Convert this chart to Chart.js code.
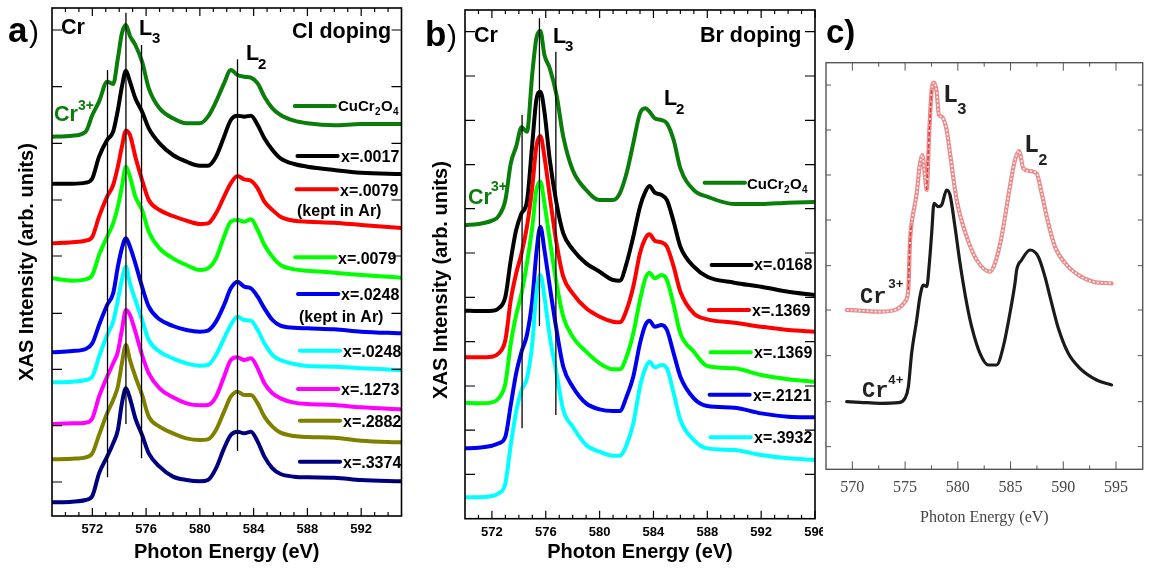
<!DOCTYPE html>
<html>
<head>
<meta charset="utf-8">
<title>Cr L-edge XAS</title>
<script src="https://cdn.jsdelivr.net/npm/chart.js@4"></script>
<style>
  html, body { margin: 0; padding: 0; background: #fff; }
  canvas { position: absolute; top: 0; }
  #chartA { left: 0; }
  #chartB { left: 410px; }
  #chartC { left: 823px; background: #fff; }
</style>
</head>
<body>
<canvas id="chartA" width="445" height="571"></canvas>
<canvas id="chartB" width="430" height="571"></canvas>
<canvas id="chartC" width="328" height="571"></canvas>
<script>
// panel a, Cl doping
const energyA = [569,570.5,571.5,572,572.5,573.1,573.55,573.9,574.2,574.5,574.8,575.2,575.7,576.2,577,578,579,580,580.6,581.2,581.8,582.3,582.8,583.3,583.8,584.3,584.8,585.4,586,587,588,590,592,595];
const cuCrA = [1138,1141,1153,1203,1243,1303,1296,1373,1448,1473,1440,1413,1363,1283,1223,1193,1178,1178,1198,1243,1298,1338,1323,1318,1315,1298,1258,1223,1203,1186,1178,1172,1176,1176];
const x0017A = [997,997,1000,1013,1078,1128,1153,1218,1288,1336,1303,1253,1213,1163,1118,1083,1063,1051,1051,1078,1138,1188,1201,1198,1201,1173,1133,1098,1073,1056,1048,1038,1030,1026];
const x0079ArA = [818,821,826,838,898,958,993,1048,1108,1156,1143,1078,1008,948,918,900,886,876,878,908,958,998,1020,1010,1006,983,943,918,898,886,883,880,873,864];
const x0079A = [713,706,710,723,783,838,878,928,988,1048,1018,958,918,853,803,773,753,738,743,773,838,883,888,883,890,858,813,778,753,740,736,730,723,715];
const x0248ArA = [491,495,501,518,573,633,668,748,803,833,808,758,688,628,590,570,558,553,556,583,633,683,703,688,683,658,623,588,571,565,563,560,553,548];
const x0248A = [401,403,408,418,478,543,583,648,708,748,698,648,588,528,493,473,458,451,453,483,533,573,598,588,586,558,518,483,468,456,450,448,443,438];
const x1273A = [276,278,280,293,358,418,458,493,558,618,603,553,483,428,383,356,338,332,333,358,418,468,476,468,473,443,398,368,353,340,336,333,326,320];
const x2882A = [170,172,176,188,243,308,348,388,458,513,468,418,363,298,268,248,233,228,230,258,313,358,373,363,363,338,298,268,250,240,237,235,226,221];
const x3374A = [41,43,48,60,128,178,218,258,338,383,353,293,243,188,148,118,108,104,108,143,203,243,253,248,253,223,178,143,126,118,116,115,108,104];
const colorsA = ['#0a7d0a','#000000','#ff0000','#00ff00','#0000f0','#00ffff','#ff00ff','#808000','#000080'];
const curvesA = [cuCrA,x0017A,x0079ArA,x0079A,x0248ArA,x0248A,x1273A,x2882A,x3374A];
const namesA = ['CuCr2O4','x=.0017','x=.0079 (kept in Ar)','x=.0079','x=.0248 (kept in Ar)','x=.0248','x=.1273','x=.2882','x=.3374'];
const swatchStartA = [587.06,587.26,587.2,587.1,587.3,587.44,587.3,587.44,587.44];
const swatchEndA = [590.05,590.25,590.2,590.1,590.3,590.43,590.3,590.43,590.43];
const swatchLevelA = [1230,1080,980,776,666,496,381,286,163];
const guideXA = [573.13,574.5,575.66,582.8];
const guideTopA = [1338,1510,1413,1370];
const guideBottomA = [116,276,173,195];
const majorXA = [572,576,580,584,588,592];
const minorXA = [570,571,573,574,575,577,578,579,581,582,583,585,586,587,589,590,591,593,594];
const ticksYA = [102,271,440,608,780,948,1118,1288,1458];

// panel b, Br doping
const energyB = [570,571,572,572.5,573,573.4,573.8,574.2,574.6,575,575.3,575.6,575.9,576.3,576.8,577.3,578,579,580,581,581.5,582,582.5,583,583.4,583.7,584.1,584.6,585,585.5,586,587,588,590,592,594,596];
const cuCrB = [881,884,894,908,956,1066,1116,1174,1161,1336,1441,1463,1391,1351,1271,1146,1046,986,956,956,976,1036,1126,1216,1231,1221,1201,1196,1186,1136,1051,986,966,944,944,948,950];
const x0168B = [624,623,624,631,666,776,866,916,951,1126,1256,1281,1221,1076,946,856,808,766,741,716,714,766,846,936,981,998,978,971,956,891,816,756,726,708,696,681,671];
const x1369RedB = [484,484,486,496,536,656,736,796,876,996,1116,1148,1086,966,826,726,676,631,606,591,589,626,696,796,841,853,834,829,816,756,681,616,598,588,576,566,561];
const x1369LimeB = [348,346,349,361,406,526,611,676,766,876,986,1011,946,836,706,606,546,501,466,448,448,486,556,656,721,738,721,731,716,641,556,501,458,451,431,418,411];
const x2121B = [211,213,219,226,246,341,436,501,551,656,796,876,806,696,566,456,396,346,328,323,323,366,426,526,581,594,576,581,566,496,426,361,338,333,316,306,304];
const x3932B = [64,64,68,76,106,221,321,386,421,526,676,731,666,546,436,326,276,221,201,189,189,221,286,396,451,471,454,461,451,376,296,236,211,206,191,181,176];
const colorsB = ['#0a7d0a','#000000','#ff0000','#00ff00','#0000f0','#00ffff'];
const curvesB = [cuCrB,x0168B,x1369RedB,x1369LimeB,x2121B,x3932B];
const namesB = ['CuCr2O4','x=.0168','x=.1369','x=.1369','x=.2121','x=.3932'];
const swatchStartB = [587.8,588.32,588.12,588.24,588.17,588.24];
const swatchEndB = [590.8,591.3,591.1,591.23,591.15,591.23];
const swatchLevelB = [1008,761,626,499,372,244];
const guideXB = [574.24,575.53,576.75];
const guideTopB = [1211,1501,1401];
const guideBottomB = [271,578,311];
const majorXB = [572,576,580,584,588,592,596];
const minorXB = [571,573,574,575,577,578,579,581,582,583,585,586,587,589,590,591,593,594,595];
const ticksYB = [133,266,398,531,664,797,930,1062,1195,1328,1461];

// panel c, reference spectra
const energyCr3 = [569.46,570.73,572.62,574.2,574.99,575.3,575.47,575.62,576.1,576.41,576.63,576.89,577.05,577.27,577.52,577.74,577.99,578.21,578.47,578.94,579.26,579.89,580.84,581.79,583.05,583.52,584.15,584.94,585.42,585.8,586.21,586.84,587.47,587.95,588.58,589.21,590.32,591.58,592.84,594.58];
const valuesCr3 = [478,476,473,480,503,538,688,738,828,918,943,878,838,998,1138,1160,1133,1063,1058,1018,948,808,698,628,593,618,698,848,928,955,903,895,888,828,738,668,613,580,563,558];
const steepEnergyCr3 = [575.3,575.47,575.62];
const steepValuesCr3 = [538,688,738];
const riseEnergyCr3 = [577.05,577.27,577.52];
const riseValuesCr3 = [838,998,1138];
const energyCr4 = [569.46,570.73,572.62,574.36,574.99,575.31,575.62,576.1,576.41,576.73,577.05,577.3,577.52,577.74,578.15,578.47,578.94,579.26,579.73,580.21,580.84,581.31,582.1,582.89,583.68,584.31,584.94,585.42,585.58,586.05,586.84,587.63,588.26,588.74,589.53,590.47,591.58,593.16,594.58];
const valuesCr4 = [203,201,198,200,213,248,348,448,518,553,548,618,708,798,788,793,838,823,728,618,498,428,348,313,313,368,468,558,598,628,658,638,578,518,423,348,303,268,253];
const majorXC = [570,575,580,585,590,595];
const minorXC = [572.5,577.5,582.5,587.5,592.5];
const ticksYC = [68,203,341,478,611,748,883,1018,1153];

const SANS = '"Liberation Sans"';
const MONO = '"Liberation Mono"';
const GREEN = '#0a7d0a';
const F16 = 'bold 16px ' + SANS;
const HEAD = 'bold 21.5px ' + SANS;
const SUB = 'bold 15px ' + SANS;

// text, x, y, font, color (canvas pixels)
const textA = [
  ['a', 8, 42, 'bold 35px ' + SANS, '#000'],
  [')', 29, 42, '30px ' + SANS, '#000'],
  ['Cr', 61, 34, HEAD, '#000'],
  ['L', 139, 35, HEAD, '#000'],
  ['3', 152, 43, SUB, '#000'],
  ['L', 246, 60, HEAD, '#000'],
  ['2', 258, 69, SUB, '#000'],
  ['Cl doping', 292, 38, HEAD, '#000'],
  ['Cr', 54, 121, HEAD, GREEN],
  ['3+', 78, 110, 'bold 14px ' + SANS, GREEN],
  ['CuCr', 338, 111, 'bold 15px ' + SANS, '#000'],
  ['2', 375, 115, 'bold 10px ' + SANS, '#000'],
  ['O', 381, 111, 'bold 15px ' + SANS, '#000'],
  ['4', 393, 115, 'bold 10px ' + SANS, '#000'],
  ['x=.0017', 341, 162, F16, '#000'],
  ['x=.0079', 340, 196, F16, '#000'],
  ['(kept in Ar)', 297, 216, F16, '#000'],
  ['x=.0079', 338, 264, F16, '#000'],
  ['x=.0248', 341, 300, F16, '#000'],
  ['(kept in Ar)', 299, 322, F16, '#000'],
  ['x=.0248', 343, 357, F16, '#000'],
  ['x=.1273', 341, 395, F16, '#000'],
  ['x=.2882', 343, 427, F16, '#000'],
  ['x=.3374', 343, 468, F16, '#000']
];
const textB = [
  ['b', 15, 46, 'bold 35px ' + SANS, '#000'],
  [')', 37, 46, '30px ' + SANS, '#000'],
  ['Cr', 64, 42, HEAD, '#000'],
  ['L', 143, 43, HEAD, '#000'],
  ['3', 155, 51, SUB, '#000'],
  ['L', 254, 105, HEAD, '#000'],
  ['2', 266, 114, SUB, '#000'],
  ['Br doping', 290, 42, HEAD, '#000'],
  ['Cr', 58, 204, HEAD, GREEN],
  ['3+', 81, 191, 'bold 14px ' + SANS, GREEN],
  ['CuCr', 337, 189, 'bold 15px ' + SANS, '#000'],
  ['2', 374, 193, 'bold 10px ' + SANS, '#000'],
  ['O', 380, 189, 'bold 15px ' + SANS, '#000'],
  ['4', 392, 193, 'bold 10px ' + SANS, '#000'],
  ['x=.0168', 344, 270, F16, '#000'],
  ['x=.1369', 342, 316, F16, '#000'],
  ['x=.1369', 344, 358, F16, '#000'],
  ['x=.2121', 343, 401, F16, '#000'],
  ['x=.3932', 344, 443, F16, '#000'],
  ['XAS Intensity (arb. units)', 37, 280, 'bold 20px ' + SANS, '#000', -90]
];
const textC = [
  ['c)', 3, 43, 'bold 33px ' + SANS, '#000'],
  ['L', 120, 102, 'bold 25px ' + MONO, '#222'],
  ['3', 134, 114, 'bold 16px ' + MONO, '#222'],
  ['L', 201, 152, 'bold 25px ' + MONO, '#222'],
  ['2', 215, 165, 'bold 16px ' + MONO, '#222'],
  ['Cr', 37, 303, 'bold 22px ' + MONO, '#222'],
  ['3+', 65, 288, 'bold 13px ' + MONO, '#222'],
  ['Cr', 39, 397, 'bold 22px ' + MONO, '#222'],
  ['4+', 65, 384, 'bold 13px ' + MONO, '#222']
];

// frame, inward ticks and free text, placed from the chart's own scales
function decorate(cfg) {
  return {
    id: 'decorate',
    afterDatasetsDraw(chart) {
      const ctx = chart.ctx;
      const { left, right, top, bottom } = chart.chartArea;
      const sx = chart.scales.x, sy = chart.scales.y;
      ctx.save();
      ctx.strokeStyle = cfg.color;
      ctx.lineWidth = cfg.tickWidth;
      ctx.beginPath();
      cfg.major.forEach(v => {
        const p = sx.getPixelForValue(v);
        ctx.moveTo(p, bottom); ctx.lineTo(p, bottom - cfg.majorLen);
        ctx.moveTo(p, top); ctx.lineTo(p, top + cfg.majorLen);
      });
      cfg.minor.forEach(v => {
        const p = sx.getPixelForValue(v);
        ctx.moveTo(p, bottom); ctx.lineTo(p, bottom - cfg.minorLen);
        ctx.moveTo(p, top); ctx.lineTo(p, top + cfg.minorLen);
      });
      cfg.ticksY.forEach(v => {
        const p = sy.getPixelForValue(v);
        ctx.moveTo(left, p); ctx.lineTo(left + cfg.yLen, p);
        ctx.moveTo(right, p); ctx.lineTo(right - cfg.yLen, p);
      });
      ctx.stroke();
      ctx.lineWidth = cfg.frameWidth;
      ctx.strokeRect(left, top, right - left, bottom - top);
      ctx.textBaseline = 'alphabetic';
      cfg.text.forEach(t => {
        ctx.save();
        ctx.font = t[3];
        ctx.fillStyle = t[4];
        if (t[5]) {
          ctx.translate(t[1], t[2]);
          ctx.rotate(t[5] * Math.PI / 180);
          ctx.textAlign = 'center';
          ctx.fillText(t[0], 0, 0);
        } else {
          ctx.fillText(t[0], t[1], t[2]);
        }
        ctx.restore();
      });
      ctx.restore();
    }
  };
}

function curveSet(xs, ys, name, color, order, width, dash) {
  return {
    label: name,
    data: xs.map((x, i) => ({ x: x, y: ys[i] })),
    borderColor: color,
    borderWidth: width,
    borderDash: dash || [],
    cubicInterpolationMode: 'monotone',
    borderCapStyle: dash ? 'butt' : 'round',
    borderJoinStyle: 'round',
    pointRadius: 0,
    order: order
  };
}

function segmentSet(x0, y0, x1, y1, color, width, order, cap) {
  return {
    data: [{ x: x0, y: y0 }, { x: x1, y: y1 }],
    borderColor: color,
    borderWidth: width,
    borderCapStyle: cap,
    pointRadius: 0,
    order: order
  };
}

function panelSets(energy, curves, names, colors, start, end, level, guideX, guideTop, guideBottom) {
  const sets = [];
  guideX.forEach((x, i) => sets.push(segmentSet(x, guideBottom[i], x, guideTop[i], '#000', 1.3, 0, 'butt')));
  curves.forEach((c, i) => {
    sets.push(curveSet(energy, c, names[i], colors[i], curves.length - i, 4));
    sets.push(segmentSet(start[i], level[i], end[i], level[i], colors[i], 4, 1, 'round'));
  });
  return sets;
}

function makeChart(id, sets, box, plugin) {
  return new Chart(document.getElementById(id), {
    type: 'line',
    data: { datasets: sets },
    options: {
      responsive: false,
      animation: false,
      layout: { padding: { left: 0, top: box.top, right: box.right, bottom: 0 } },
      plugins: { legend: { display: false }, tooltip: { enabled: false } },
      scales: {
        x: {
          type: 'linear',
          min: box.xMin,
          max: box.xMax,
          grid: { display: false, drawTicks: false },
          border: { display: false },
          afterFit: s => { s.height = box.xHeight; },
          afterBuildTicks: s => { s.ticks = box.major.map(v => ({ value: v })); },
          ticks: { font: box.tickFont, color: box.tickColor, padding: box.tickPad, maxRotation: 0, autoSkip: false },
          title: { display: true, text: 'Photon Energy (eV)', font: box.titleFont, color: box.tickColor, padding: { top: 0, bottom: box.titlePad } }
        },
        y: {
          min: 0,
          max: box.yMax,
          grid: { display: false, drawTicks: false },
          border: { display: false },
          afterFit: s => { s.width = box.yWidth; },
          ticks: { display: false },
          title: box.yTitle
        }
      }
    },
    plugins: [plugin]
  });
}

const boldTicks = { family: 'Liberation Sans', size: 13, weight: 'bold' };
const boldTitle = { family: 'Liberation Sans', size: 20, weight: 'bold' };

makeChart('chartA',
  panelSets(energyA, curvesA, namesA, colorsA, swatchStartA, swatchEndA, swatchLevelA, guideXA, guideTopA, guideBottomA),
  { xMin: 569, xMax: 595, yMax: 1524, top: 8, right: 43.5, xHeight: 55, yWidth: 52, major: majorXA,
    tickFont: boldTicks, tickColor: '#000', tickPad: 6, titleFont: boldTitle, titlePad: 7,
    yTitle: { display: true, text: 'XAS Intensity (arb. units)', font: boldTitle, color: '#000', padding: { top: 15, bottom: 0 } } },
  decorate({ major: majorXA, minor: minorXA, ticksY: ticksYA, majorLen: 8, minorLen: 4, yLen: 10, color: '#000', tickWidth: 1.2, frameWidth: 1.6, text: textA }));

makeChart('chartB',
  panelSets(energyB, curvesB, namesB, colorsB, swatchStartB, swatchEndB, swatchLevelB, guideXB, guideTopB, guideBottomB),
  { xMin: 570, xMax: 596, yMax: 1526, top: 10, right: 25, xHeight: 52.3, yWidth: 55, major: majorXB,
    tickFont: boldTicks, tickColor: '#000', tickPad: 6, titleFont: boldTitle, titlePad: 7,
    yTitle: { display: false } },
  decorate({ major: majorXB, minor: minorXB, ticksY: ticksYB, majorLen: 8, minorLen: 4, yLen: 10, color: '#000', tickWidth: 1.2, frameWidth: 1.6, text: textB }));

makeChart('chartC',
  [
    curveSet(steepEnergyCr3, steepValuesCr3, 'Cr3+ edge', '#e83a3a', 1, 1.6, [4, 2]),
    curveSet(riseEnergyCr3, riseValuesCr3, 'Cr3+ rise', '#e83a3a', 1, 1.6, [4, 2]),
    curveSet(energyCr3, valuesCr3, 'Cr3+ markers', '#fff4f4', 3, 1.6, [2, 2]),
    curveSet(energyCr3, valuesCr3, 'Cr3+', '#ea8a8a', 4, 4.2),
    curveSet(energyCr4, valuesCr4, 'Cr4+', '#1a1a1a', 2, 3.2)
  ],
  { xMin: 567.5, xMax: 597.53, yMax: 1220, top: 62.7, right: 8.3, xHeight: 101.7, yWidth: 3, major: majorXC,
    tickFont: { family: 'Liberation Serif', size: 16 }, tickColor: '#444', tickPad: 9,
    titleFont: { family: 'Liberation Serif', size: 16 }, titlePad: 44,
    yTitle: { display: false } },
  decorate({ major: majorXC, minor: minorXC, ticksY: ticksYC, majorLen: 8, minorLen: 4, yLen: 5, color: '#555', tickWidth: 1, frameWidth: 1.4, text: textC }));
</script>
</body>
</html>
